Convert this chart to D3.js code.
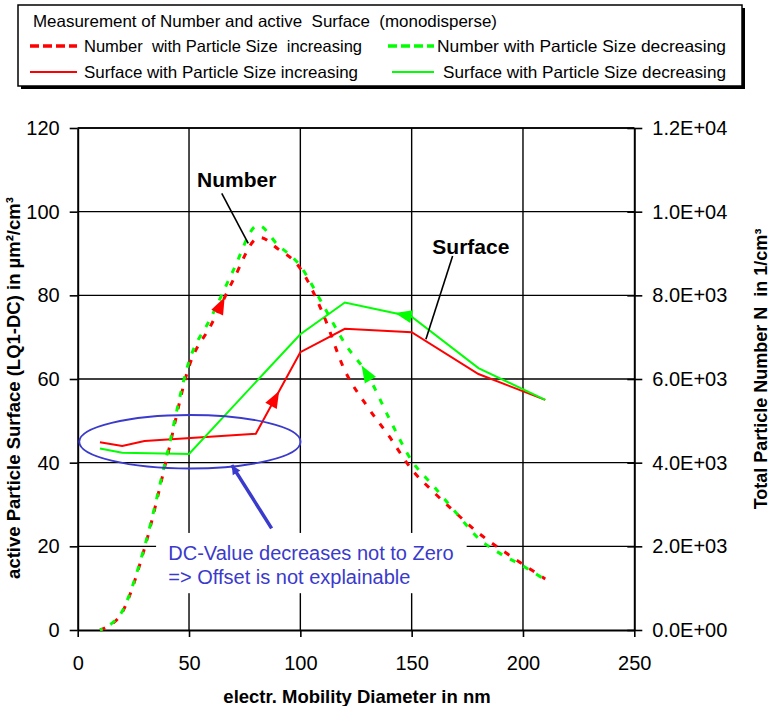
<!DOCTYPE html>
<html>
<head>
<meta charset="utf-8">
<script src="https://cdn.jsdelivr.net/npm/d3@7"></script>
<style>
  html, body { margin: 0; padding: 0; background: #fff; }
  svg { display: block; font-family: "Liberation Sans", Arial, sans-serif; }
</style>
</head>
<body>
<svg id="chart" width="772" height="706"></svg>
<script>
// Electrical mobility diameter (nm) of the monodisperse steps
const sizesNumber = [10, 20, 30, 40, 50, 60, 70, 80, 90, 100, 110, 120, 130, 140, 150, 160, 170, 180, 190, 200, 210];
// Total particle number N (1/cm³), right axis
const numberIncreasing = [0, 420, 1950, 4100, 6300, 7300, 8380, 9350, 9110, 8640, 7580, 6200, 5350, 4620, 3840, 3290, 2790, 2320, 1930, 1570, 1220];
const numberDecreasing = [0, 450, 1990, 4170, 6420, 7480, 8610, 9660, 9200, 8700, 7790, 6850, 6120, 5050, 4050, 3430, 2800, 2190, 1820, 1530, 1200];

// Active particle surface (µm²/cm³), left axis
const sizesSurfaceInc = [10, 20, 30, 80, 100, 120, 150, 180, 210];
const surfaceIncreasing = [44.9, 44.0, 45.2, 46.9, 66.4, 72.0, 71.2, 61.2, 55.0];
const sizesSurfaceDec = [10, 20, 50, 100, 120, 150, 180, 210];
const surfaceDecreasing = [43.4, 42.4, 42.1, 70.7, 78.3, 74.9, 62.6, 55.0];

// Axis ticks
const xTicks = [0, 50, 100, 150, 200, 250];
const yLeftTicks = [0, 20, 40, 60, 80, 100, 120];
const yRightTicks = [0, 2000, 4000, 6000, 8000, 10000, 12000];
const yRightTickLabels = ["0.0E+00", "2.0E+03", "4.0E+03", "6.0E+03", "8.0E+03", "1.0E+04", "1.2E+04"];

// Texts
const legendTitle = "Measurement of Number and active  Surface  (monodisperse)";
const legendLabels = [
  "Number  with Particle Size  increasing",
  "Number with Particle Size decreasing",
  "Surface with Particle Size increasing",
  "Surface with Particle Size decreasing"
];
const xTitle = "electr. Mobility Diameter in nm";
const yLeftTitle = "active Particle Surface (LQ1-DC) in µm²/cm³";
const yRightTitle = "Total Particle Number N  in 1/cm³";
const noteLines = ["DC-Value decreases not to Zero", "=> Offset is not explainable"];

const RED = "#ff0000", GREEN = "#00ff00", BLUE = "#3a3acc";

const svg = d3.select("#chart");
svg.append("rect").attr("width", 772).attr("height", 706).attr("fill", "#fff");

const x = d3.scaleLinear().domain([0, 250]).range([77.7, 634.3]);
const yL = d3.scaleLinear().domain([0, 120]).range([630, 128]);
const yR = d3.scaleLinear().domain([0, 12000]).range([630, 128]);

// ---- grid ----
const grid = svg.append("g");
grid.selectAll("line.h").data(yLeftTicks.filter(d => d > 0)).join("line")
  .attr("x1", x(0)).attr("x2", x(250)).attr("y1", d => yL(d)).attr("y2", d => yL(d))
  .attr("stroke", "#000").attr("stroke-width", 1.4);
grid.selectAll("line.v").data(xTicks.filter(d => d > 0 && d < 250)).join("line")
  .attr("x1", d => x(d)).attr("x2", d => x(d)).attr("y1", yL(0)).attr("y2", yL(120))
  .attr("stroke", "#000").attr("stroke-width", 1.4);

// ---- note box background (hides grid behind the text) ----
svg.append("rect")
  .attr("x", x(35.2)).attr("y", yL(23.2))
  .attr("width", x(174.7) - x(35.2)).attr("height", yL(8.8) - yL(23.2))
  .attr("fill", "#fff");

// ---- axes ----
function styleAxis(g) {
  g.selectAll("text").attr("font-size", 20).attr("fill", "#000")
    .attr("font-family", "'Liberation Sans', Arial, sans-serif");
  g.selectAll("line").attr("stroke", "#000").attr("stroke-width", 1.6);
  g.select(".domain").attr("stroke", "#000").attr("stroke-width", 2);
}
const axB = svg.append("g").attr("transform", `translate(0,${yL(0)})`)
  .call(d3.axisBottom(x).tickValues(xTicks).tickSize(7).tickSizeOuter(0).tickPadding(19).tickFormat(d3.format("d")));
styleAxis(axB);
const axL = svg.append("g").attr("transform", `translate(${x(0)},0)`)
  .call(d3.axisLeft(yL).tickValues(yLeftTicks).tickSize(8).tickSizeOuter(0).tickPadding(10).tickFormat(d3.format("d")));
styleAxis(axL);
const axR = svg.append("g").attr("transform", `translate(${x(250)},0)`)
  .call(d3.axisRight(yR).tickValues(yRightTicks).tickSize(8).tickSizeOuter(0).tickPadding(10)
    .tickFormat((d, i) => yRightTickLabels[i]));
styleAxis(axR);
axR.selectAll(".tick line").attr("x1", -7);
// top frame line
svg.append("line").attr("x1", x(0)).attr("x2", x(250)).attr("y1", yL(120)).attr("y2", yL(120))
  .attr("stroke", "#000").attr("stroke-width", 1.6);

// ---- axis titles ----
svg.append("text").attr("x", 357).attr("y", 703).attr("text-anchor", "middle")
  .attr("font-size", 18.5).attr("font-weight", "bold").text(xTitle);
svg.append("text").attr("transform", "translate(20,388) rotate(-90)").attr("text-anchor", "middle")
  .attr("font-size", 18.5).attr("font-weight", "bold").text(yLeftTitle);
svg.append("text").attr("transform", "translate(767,369) rotate(-90)").attr("text-anchor", "middle")
  .attr("font-size", 18).attr("font-weight", "bold").style("white-space", "pre").text(yRightTitle);

// ---- series ----
const plot = svg.append("g");
const lineSurf = d3.line().x(d => x(d[0])).y(d => yL(d[1]));
const lineNum = d3.line().x(d => x(d[0])).y(d => yR(d[1])).curve(d3.curveCatmullRom.alpha(0));

const pSurfInc = plot.append("path").datum(d3.zip(sizesSurfaceInc, surfaceIncreasing))
  .attr("d", lineSurf).attr("fill", "none").attr("stroke", RED).attr("stroke-width", 2);
const pSurfDec = plot.append("path").datum(d3.zip(sizesSurfaceDec, surfaceDecreasing))
  .attr("d", lineSurf).attr("fill", "none").attr("stroke", GREEN).attr("stroke-width", 2);
const pNumInc = plot.append("path").datum(d3.zip(sizesNumber, numberIncreasing))
  .attr("d", lineNum).attr("fill", "none").attr("stroke", RED).attr("stroke-width", 3)
  .attr("stroke-dasharray", "6,9");
const pNumDec = plot.append("path").datum(d3.zip(sizesNumber, numberDecreasing))
  .attr("d", lineNum).attr("fill", "none").attr("stroke", GREEN).attr("stroke-width", 3)
  .attr("stroke-dasharray", "6,9").attr("stroke-dashoffset", 3);

// point on a drawn path at a given x value (paths are monotone in x)
function pointAtX(path, xv) {
  const node = path.node(), total = node.getTotalLength(), target = x(xv);
  let lo = 0, hi = total;
  for (let i = 0; i < 40; i++) {
    const mid = (lo + hi) / 2;
    if (node.getPointAtLength(mid).x < target) lo = mid; else hi = mid;
  }
  const p = node.getPointAtLength((lo + hi) / 2);
  return [p.x, p.y];
}
function arrowHead(tip, tail, color, len, half) {
  const dx = tip[0] - tail[0], dy = tip[1] - tail[1], L = Math.hypot(dx, dy);
  const ux = dx / L, uy = dy / L, bx = tip[0] - ux * len, by = tip[1] - uy * len;
  svg.append("path")
    .attr("d", `M${tip[0]},${tip[1]}L${bx - uy * half},${by + ux * half}L${bx + uy * half},${by - ux * half}Z`)
    .attr("fill", color);
}
// direction markers along the sweeps
arrowHead(pointAtX(pNumInc, 66), pointAtX(pNumInc, 61), RED, 17, 6.5);
arrowHead(pointAtX(pNumDec, 127.5), pointAtX(pNumDec, 132), GREEN, 17, 6.5);
arrowHead(pointAtX(pSurfInc, 90.5), pointAtX(pSurfInc, 86), RED, 17, 6.5);
arrowHead(pointAtX(pSurfDec, 142.5), pointAtX(pSurfDec, 148), GREEN, 17, 6.5);

// ---- annotations ----
svg.append("text").attr("x", x(71.4)).attr("y", yL(106)).attr("text-anchor", "middle")
  .attr("font-size", 21).attr("font-weight", "bold").text("Number");
svg.append("line").attr("x1", x(64.7)).attr("y1", yL(104.4)).attr("x2", x(76.6)).attr("y2", yL(92.4))
  .attr("stroke", "#000").attr("stroke-width", 1.6);
svg.append("text").attr("x", x(176.6)).attr("y", yL(89.8)).attr("text-anchor", "middle")
  .attr("font-size", 21).attr("font-weight", "bold").text("Surface");
svg.append("line").attr("x1", x(168.4)).attr("y1", yL(89.4)).attr("x2", x(156.4)).attr("y2", yL(69.5))
  .attr("stroke", "#000").attr("stroke-width", 1.6);

// offset ellipse and pointer
svg.append("ellipse").attr("cx", x(50.4)).attr("cy", yL(45))
  .attr("rx", x(50.4 + 49.7) - x(50.4)).attr("ry", yL(45) - yL(51.4))
  .attr("fill", "none").attr("stroke", BLUE).attr("stroke-width", 1.8);
const pTail = [x(87.1), yL(24.3)], pTip = [x(69.2), yL(39.4)];
svg.append("line").attr("x1", pTail[0]).attr("y1", pTail[1]).attr("x2", pTip[0]).attr("y2", pTip[1])
  .attr("stroke", BLUE).attr("stroke-width", 3.5);
arrowHead(pTip, pTail, BLUE, 9, 4.5);

const note = svg.append("text").attr("fill", BLUE).attr("font-size", 20);
noteLines.forEach((t, i) => {
  note.append("tspan").attr("x", x(40.7)).attr("y", yL(16.7) + i * 24).text(t);
});

// ---- legend ----
const lg = svg.append("g");
lg.append("rect").attr("x", 21).attr("y", 8).attr("width", 724).attr("height", 81).attr("fill", "#000");
lg.append("rect").attr("x", 18).attr("y", 5).attr("width", 724).attr("height", 81)
  .attr("fill", "#fff").attr("stroke", "#000").attr("stroke-width", 1.5);
lg.append("text").attr("x", 33).attr("y", 27).attr("font-size", 16.5).style("white-space", "pre")
  .attr("textLength", 464).attr("lengthAdjust", "spacingAndGlyphs").text(legendTitle);

const legendItems = [
  { label: legendLabels[0], color: RED, dash: "9,4", sx: [30, 77], tx: 84, tw: 278, row: 0 },
  { label: legendLabels[1], color: GREEN, dash: "9,4", sx: [388, 434], tx: 437, tw: 289, row: 0 },
  { label: legendLabels[2], color: RED, dash: null, sx: [30, 77], tx: 84, tw: 274, row: 1 },
  { label: legendLabels[3], color: GREEN, dash: null, sx: [392, 434], tx: 443, tw: 283, row: 1 }
];
legendItems.forEach(it => {
  const cy = 46 + it.row * 26;
  lg.append("line").attr("x1", it.sx[0]).attr("x2", it.sx[1]).attr("y1", cy).attr("y2", cy)
    .attr("stroke", it.color).attr("stroke-width", it.dash ? 3.5 : 2)
    .attr("stroke-dasharray", it.dash);
  lg.append("text").attr("x", it.tx).attr("y", cy + 6).attr("font-size", 16.5).style("white-space", "pre")
    .attr("textLength", it.tw).attr("lengthAdjust", "spacingAndGlyphs").text(it.label);
});
</script>
</body>
</html>
